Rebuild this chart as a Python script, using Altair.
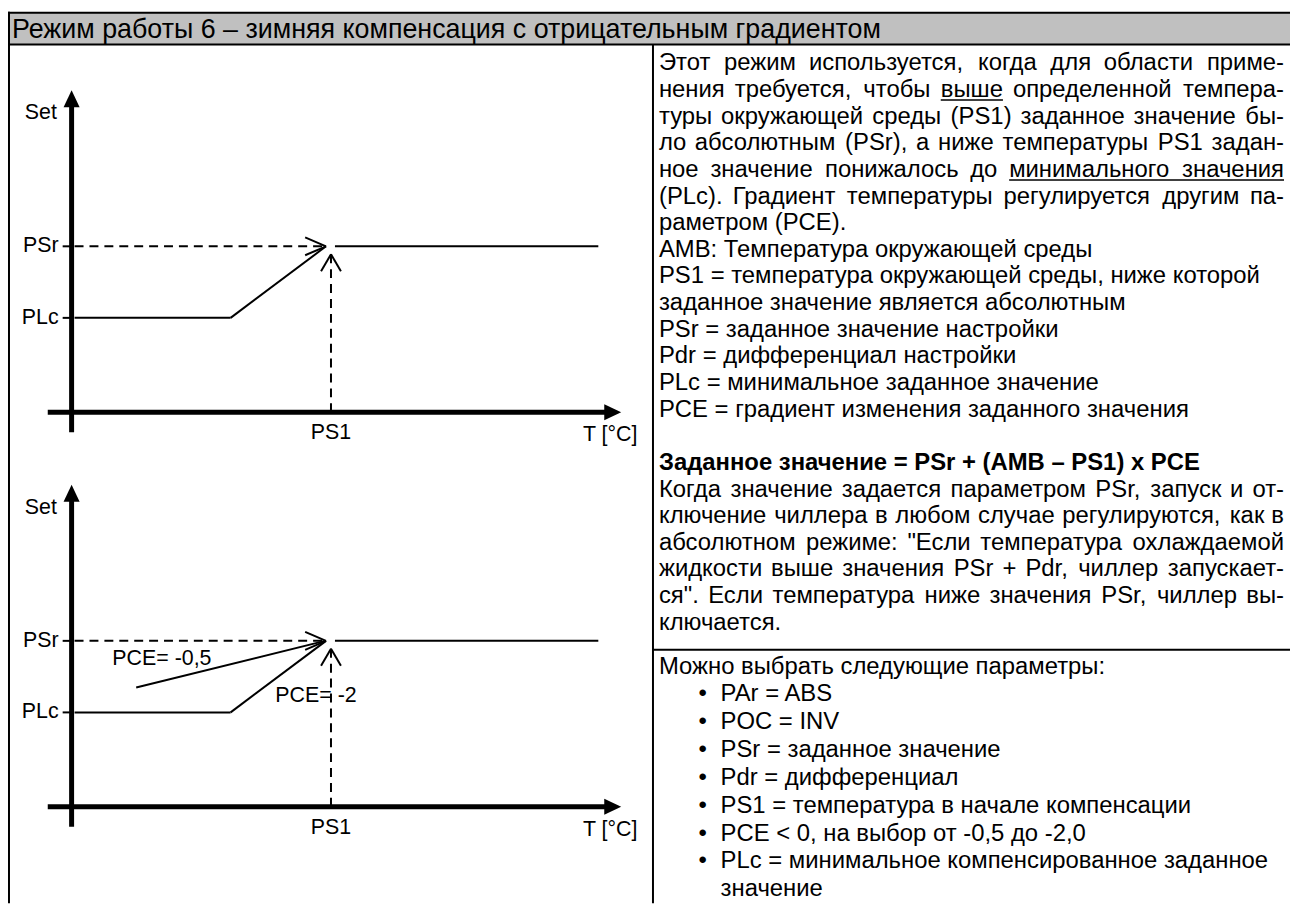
import altair as alt
import pandas as pd

FONT = "Liberation Sans"

# ---------------- texts ----------------
HEADER = "Режим работы 6 – зимняя компенсация с отрицательным градиентом"

# right column, paragraph block (J = justified line, B = bold); "_word_" marks underlined words
BLOCK1 = [
    ("Этот режим используется, когда для области приме-", "J"),
    ("нения требуется, чтобы _выше_ определенной темпера-", "J"),
    ("туры окружающей среды (PS1) заданное значение бы-", "J"),
    ("ло абсолютным (PSr), а ниже температуры PS1 задан-", "J"),
    ("ное значение понижалось до _минимального_ _значения_", "J"),
    ("(PLc). Градиент температуры регулируется другим па-", "J"),
    ("раметром (PCE).", ""),
    ("AMB: Температура окружающей среды", ""),
    ("PS1 = температура окружающей среды, ниже которой", ""),
    ("заданное значение является абсолютным", ""),
    ("PSr = заданное значение настройки", ""),
    ("Pdr = дифференциал настройки", ""),
    ("PLc = минимальное заданное значение", ""),
    ("PCE = градиент изменения заданного значения", ""),
    ("", ""),
    ("Заданное значение = PSr + (AMB – PS1) x PCE", "B"),
    ("Когда значение задается параметром PSr, запуск и от-", "J"),
    ("ключение чиллера в любом случае регулируются, как в", "J"),
    ("абсолютном режиме: \"Если температура охлаждаемой", "J"),
    ("жидкости выше значения PSr + Pdr, чиллер запускает-", "J"),
    ("ся\". Если температура ниже значения PSr, чиллер вы-", "J"),
    ("ключается.", ""),
]
PARAM_INTRO = "Можно выбрать следующие параметры:"
PARAM_BULLETS = [
    "PAr = ABS",
    "POC = INV",
    "PSr = заданное значение",
    "Pdr = дифференциал",
    "PS1 = температура в начале компенсации",
    "PCE < 0, на выбор от -0,5 до -2,0",
    "PLc = минимальное компенсированное заданное",
]
PARAM_CONT = "значение"

# ---------------- diagram values (abstract units: T along x, Set along y) ----------------
T_AXIS = [-2.4, 55.3]
SET_AXIS = [-2.0, 32.4]
T_PS1 = 26.1
SET_PLC = 9.5
SET_PSR = 16.7
PLC_PATH_T = [0.3, 16.0, 25.6]
PLC_PATH_SET = [SET_PLC, SET_PLC, SET_PSR]
PSR_SOLID_T = [26.5, 53.0]
PSR_DASH_T = [0.3, 25.5]
PS1_DASH_SET = [0.0, 15.9]
PCE05_T = [6.5, 25.5]
PCE05_SET = [12.0, 16.7]
PCE_LABELS = ["PCE= -0,5", "PCE= -2"]
PCE_LABEL_T = [4.1, 20.5]
PCE_LABEL_SET = [14.9, 11.1]

# ---------------- layout ----------------
PX = 10.0                      # pixels per abstract unit
ORIGINS = [(72, 412), (72, 809)]
LEFT, RIGHT = 663, 1292
FS_BODY, FS_HEAD, FS_DIAG = 24, 27, 21.5

XS = alt.Scale(domain=[8, 1298], nice=False, zero=False)
YS = alt.Scale(domain=[8, 906], nice=False, zero=False, reverse=True)

# Arial / Liberation Sans advance widths (em)
W = {' ': .278, ',': .278, '.': .278, ':': .278, '(': .333, ')': .333, '-': .333, '"': .355,
     '=': .584, '+': .584, '<': .584, '–': .556, '[': .278, ']': .278, '°': .4,
     'A': .667, 'B': .667, 'C': .722, 'E': .667, 'I': .278, 'L': .556, 'M': .833, 'N': .722,
     'O': .778, 'P': .667, 'S': .667, 'T': .611, 'V': .667, 'r': .333, 'd': .556, 'c': .5, 'x': .5}
for ch in "0123456789":
    W[ch] = .556
W.update(dict(zip("абвгдеёжзийклмнопрстуфхцчшщъыьэюя",
                  [.556, .573, .531, .365, .583, .556, .556, .669, .458, .559, .559, .438, .583, .688, .552,
                   .556, .542, .556, .5, .458, .5, .823, .5, .573, .521, .802, .823, .625, .719, .521,
                   .51, .75, .542])))
W.update(dict(zip("АБВГДЕЁЖЗИЙКЛМНОПРСТУФХЦЧШЩЪЫЬЭЮЯ",
                  [.667, .656, .667, .542, .677, .667, .667, .923, .604, .719, .719, .583, .656, .833, .722,
                   .778, .719, .667, .722, .611, .635, .76, .667, .74, .667, .917, .938, .792, .885, .656,
                   .719, 1.01, .719])))


def tw(s, fs):
    return sum(W.get(c, .556) for c in s) * fs


def enc(chart, extra=None):
    e = dict(x=alt.X("x:Q", scale=XS, axis=None), y=alt.Y("y:Q", scale=YS, axis=None))
    if extra:
        e.update(extra)
    return chart.encode(**e)


def rules(rows, **kw):
    df = pd.DataFrame(rows)
    base = alt.Chart(df).mark_rule(color="black", strokeCap="butt", **kw)
    return enc(base, {"x2": "x2:Q", "y2": "y2:Q"})


def texts(rows, **kw):
    df = pd.DataFrame(rows)
    props = dict(font=FONT, color="black", baseline="middle", align="left")
    props.update(kw)
    return enc(alt.Chart(df).mark_text(**props), {"text": "text:N"})


layers = []

# ---------------- table frame ----------------
layers.append(enc(alt.Chart(pd.DataFrame([dict(x=5, x2=1298, y=10, y2=42)])).mark_rect(color="#c0c0c0"),
                  {"x2": "x2:Q", "y2": "y2:Q"}))
layers.append(rules([dict(x=5, x2=1298, y=10, y2=10), dict(x=5, x2=1298, y=42, y2=42),
                     dict(x=9, x2=9, y=9, y2=906), dict(x=657, x2=657, y=42, y2=906),
                     dict(x=657, x2=1298, y=651, y2=651)], strokeWidth=2))
layers.append(texts([dict(x=12, y=27, text=HEADER)], fontSize=FS_HEAD))

# ---------------- diagrams ----------------
thick, solid, dashed, heads_up, heads_right, labels_l, labels_r, labels_c = [], [], [], [], [], [], [], []
for k, (ox, oy) in enumerate(ORIGINS):
    X = lambda t: ox + t * PX
    Y = lambda s: oy - s * PX
    # axes
    thick.append(dict(x=X(0), x2=X(0), y=Y(SET_AXIS[0]), y2=Y(SET_AXIS[1]) + 12))
    thick.append(dict(x=X(T_AXIS[0]), x2=X(T_AXIS[1]) - 12, y=Y(0), y2=Y(0)))
    heads_up.append(dict(x=X(0), y=Y(SET_AXIS[1]) + 8.5))
    heads_right.append(dict(x=X(T_AXIS[1]) - 8.5, y=Y(0)))
    # ticks
    for s in (SET_PSR, SET_PLC):
        solid.append(dict(x=X(-0.9), x2=X(0), y=Y(s), y2=Y(s)))
    # PLc -> PSr path
    for i in range(len(PLC_PATH_T) - 1):
        solid.append(dict(x=X(PLC_PATH_T[i]), y=Y(PLC_PATH_SET[i]),
                          x2=X(PLC_PATH_T[i + 1]), y2=Y(PLC_PATH_SET[i + 1])))
    solid.append(dict(x=X(PSR_SOLID_T[0]), x2=X(PSR_SOLID_T[1]), y=Y(SET_PSR), y2=Y(SET_PSR)))
    if k == 1:
        solid.append(dict(x=X(PCE05_T[0]), y=Y(PCE05_SET[0]), x2=X(PCE05_T[1]), y2=Y(PCE05_SET[1])))
    # open arrow heads
    tip = (X(PSR_DASH_T[1] + 0.1), Y(SET_PSR))
    solid.append(dict(x=tip[0], y=tip[1], x2=tip[0] - 21, y2=tip[1] - 9))
    solid.append(dict(x=tip[0], y=tip[1], x2=tip[0] - 21, y2=tip[1] + 9))
    tip2 = (X(T_PS1), Y(PS1_DASH_SET[1]))
    solid.append(dict(x=tip2[0], y=tip2[1], x2=tip2[0] - 10, y2=tip2[1] + 17))
    solid.append(dict(x=tip2[0], y=tip2[1], x2=tip2[0] + 10, y2=tip2[1] + 17))
    # dashed guides
    dashed.append(dict(x=X(PSR_DASH_T[0]), x2=X(PSR_DASH_T[1]), y=Y(SET_PSR), y2=Y(SET_PSR)))
    dashed.append(dict(x=X(T_PS1), x2=X(T_PS1), y=Y(PS1_DASH_SET[0]), y2=Y(PS1_DASH_SET[1])))
    # labels
    labels_c.append(dict(x=X(-3.1), y=Y(SET_AXIS[1]) + 23, text="Set"))
    labels_r.append(dict(x=X(-1.3), y=Y(SET_PSR), text="PSr"))
    labels_r.append(dict(x=X(-1.3), y=Y(SET_PLC), text="PLc"))
    labels_c.append(dict(x=X(T_PS1), y=Y(0) + 21, text="PS1"))
    labels_c.append(dict(x=X(T_AXIS[1]) - 11, y=Y(0) + 23, text="T [°C]"))
    if k == 1:
        for lab, t, s in zip(PCE_LABELS, PCE_LABEL_T, PCE_LABEL_SET):
            labels_l.append(dict(x=X(t), y=Y(s), text=lab))

layers.append(rules(thick, strokeWidth=5))
layers.append(rules(solid, strokeWidth=2))
layers.append(rules(dashed, strokeWidth=2, strokeDash=[9, 6]))
layers.append(enc(alt.Chart(pd.DataFrame(heads_up)).mark_point(
    shape="M0,-1L-0.95,1L0.95,1Z", size=289, filled=True, color="black", opacity=1, strokeWidth=0)))
layers.append(enc(alt.Chart(pd.DataFrame(heads_right)).mark_point(
    shape="M1,0L-1,-0.95L-1,0.95Z", size=289, filled=True, color="black", opacity=1, strokeWidth=0)))
layers.append(texts(labels_c, fontSize=FS_DIAG, align="center"))
layers.append(texts(labels_r, fontSize=FS_DIAG, align="right"))
layers.append(texts(labels_l, fontSize=FS_DIAG, align="left"))

# ---------------- right column text ----------------
left_rows, right_rows, bold_rows, underl = [], [], [], []
y0, step = 61, 26.8
for i, (line, kind) in enumerate(BLOCK1):
    y = y0 + i * step
    if not line:
        continue
    if kind == "B":
        bold_rows.append(dict(x=LEFT, y=y, text=line))
        continue
    if kind != "J":
        left_rows.append(dict(x=LEFT, y=y, text=line))
        continue
    words = line.split(" ")
    clean = [w.strip("_") for w in words]
    flag = [w.startswith("_") for w in words]
    widths = [tw(w, FS_BODY) for w in clean]
    gap = (RIGHT - LEFT - sum(widths)) / (len(words) - 1)
    xs, x = [], LEFT
    for w in widths:
        xs.append(x)
        x += w + gap
    xs[-1] = RIGHT - widths[-1]
    for j, w in enumerate(clean):
        if j == len(clean) - 1:
            right_rows.append(dict(x=RIGHT, y=y, text=w))
        else:
            left_rows.append(dict(x=xs[j], y=y, text=w))
    j = 0
    while j < len(clean):
        if flag[j]:
            k2 = j
            while k2 + 1 < len(clean) and flag[k2 + 1]:
                k2 += 1
            underl.append(dict(x=xs[j], x2=xs[k2] + widths[k2], y=y + 10, y2=y + 10))
            j = k2 + 1
        else:
            j += 1

y3, step3 = 668, 28
left_rows.append(dict(x=LEFT, y=y3, text=PARAM_INTRO))
bullet_rows = []
for i, b in enumerate(PARAM_BULLETS):
    yy = y3 + (i + 1) * step3
    bullet_rows.append(dict(x=707, y=yy, text="•"))
    left_rows.append(dict(x=725, y=yy, text=b))
left_rows.append(dict(x=725, y=y3 + (len(PARAM_BULLETS) + 1) * step3, text=PARAM_CONT))

layers.append(texts(left_rows, fontSize=FS_BODY))
layers.append(texts(right_rows, fontSize=FS_BODY, align="right"))
layers.append(texts(bold_rows, fontSize=FS_BODY, fontWeight="bold"))
layers.append(texts(bullet_rows, fontSize=FS_BODY, align="center"))
layers.append(rules(underl, strokeWidth=1.5))

chart = alt.layer(*layers).properties(
    width=1290, height=898, padding=0, autosize="none"
).configure_view(stroke=None)

chart.save("out.html", embed_options={"renderer": "svg", "actions": False})
